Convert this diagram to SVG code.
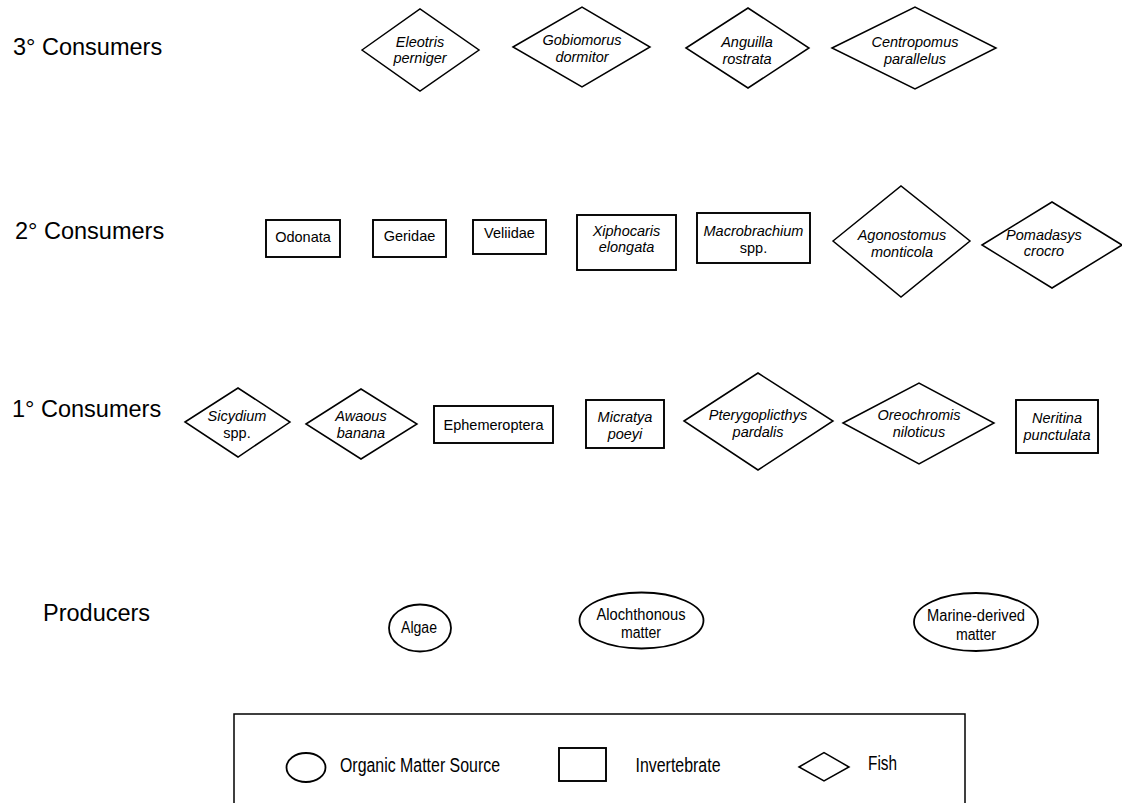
<svg xmlns="http://www.w3.org/2000/svg" width="1122" height="803" viewBox="0 0 1122 803">
<style>
.bg{fill:#ffffff}
.shape{fill:#ffffff;stroke:#000000;stroke-width:1.5}
.box{stroke-width:1.9}
.oval{stroke-width:1.8}
.lbl{font-family:"Liberation Sans",Arial,sans-serif;font-size:23.5px;fill:#000}
.t{font-family:"Liberation Sans",Arial,sans-serif;font-size:14.5px;fill:#000;text-anchor:middle}
.i{font-style:italic}
.n{font-family:"Liberation Sans Narrow","Liberation Sans",Arial,sans-serif;font-size:16px;fill:#000}
.c{text-anchor:middle}
.lg{font-family:"Liberation Sans Narrow","Liberation Sans",Arial,sans-serif;font-size:19.5px;fill:#000}
</style>
<rect class="bg" x="0" y="0" width="1122" height="803"/>

<g id="level-labels">
<text class="lbl" x="13" y="55">3° Consumers</text>
<text class="lbl" x="15" y="239">2° Consumers</text>
<text class="lbl" x="12" y="417">1° Consumers</text>
<text class="lbl" x="43" y="621">Producers</text>
</g>

<g id="connectors"></g>

<!-- 3° consumers -->
<g id="eleotris">
<polygon class="shape" points="362,50 420,9 479,50 420,91"/>
<text class="t i" x="420" y="46.5">Eleotris</text>
<text class="t i" x="420" y="63">perniger</text>
</g>
<g id="gobiomorus">
<polygon class="shape" points="513,47 582,7 650,47 582,87"/>
<text class="t i" x="582" y="44.5">Gobiomorus</text>
<text class="t i" x="582" y="62">dormitor</text>
</g>
<g id="anguilla">
<polygon class="shape" points="686,48 748,8 809,48 748,88"/>
<text class="t i" x="747" y="46.5">Anguilla</text>
<text class="t i" x="747" y="64">rostrata</text>
</g>
<g id="centropomus">
<polygon class="shape" points="832,48 915,7 996,48 915,89"/>
<text class="t i" x="915" y="46.5">Centropomus</text>
<text class="t i" x="915" y="64">parallelus</text>
</g>

<!-- 2° consumers -->
<g id="odonata">
<rect class="shape box" x="266" y="220" width="74" height="37"/>
<text class="t" x="303" y="241.5">Odonata</text>
</g>
<g id="geridae">
<rect class="shape box" x="373" y="220" width="73" height="37"/>
<text class="t" x="409.5" y="241">Geridae</text>
</g>
<g id="veliidae">
<rect class="shape box" x="473" y="220" width="73" height="34"/>
<text class="t" x="509.5" y="238">Veliidae</text>
</g>
<g id="xiphocaris">
<rect class="shape box" x="577" y="215" width="99" height="55"/>
<text class="t i" x="626.5" y="236">Xiphocaris</text>
<text class="t i" x="626.5" y="252">elongata</text>
</g>
<g id="macrobrachium">
<rect class="shape box" x="697" y="213" width="113" height="50"/>
<text class="t i" x="753.5" y="236">Macrobrachium</text>
<text class="t" x="753.5" y="253">spp.</text>
</g>
<g id="agonostomus">
<polygon class="shape" points="833,241 901,186 970,241 901,297"/>
<text class="t i" x="902" y="240">Agonostomus</text>
<text class="t i" x="902" y="257">monticola</text>
</g>
<g id="pomadasys">
<polygon class="shape" points="982,245 1052,202 1122,245 1052,288"/>
<text class="t i" x="1044" y="240">Pomadasys</text>
<text class="t i" x="1044" y="256">crocro</text>
</g>

<!-- 1° consumers -->
<g id="sicydium">
<polygon class="shape" points="185,422 238,388 290,422 238,457"/>
<text class="t i" x="237" y="421">Sicydium</text>
<text class="t" x="237" y="438">spp.</text>
</g>
<g id="awaous">
<polygon class="shape" points="306,424 361,389 417,424 361,459"/>
<text class="t i" x="361" y="421">Awaous</text>
<text class="t i" x="361" y="438">banana</text>
</g>
<g id="ephemeroptera">
<rect class="shape box" x="434" y="406" width="119" height="37"/>
<text class="t" x="493.5" y="430">Ephemeroptera</text>
</g>
<g id="micratya">
<rect class="shape box" x="586" y="400" width="78" height="48"/>
<text class="t i" x="625" y="422">Micratya</text>
<text class="t i" x="625" y="439">poeyi</text>
</g>
<g id="pterygoplicthys">
<polygon class="shape" points="684,421 758,373 833,421 758,470"/>
<text class="t i" x="758" y="420">Pterygoplicthys</text>
<text class="t i" x="758" y="437">pardalis</text>
</g>
<g id="oreochromis">
<polygon class="shape" points="843,423 919,383 994,423 919,464"/>
<text class="t i" x="919" y="420">Oreochromis</text>
<text class="t i" x="919" y="437">niloticus</text>
</g>
<g id="neritina">
<rect class="shape box" x="1016" y="400" width="82" height="53"/>
<text class="t i" x="1057" y="423">Neritina</text>
<text class="t i" x="1057" y="440">punctulata</text>
</g>

<!-- producers -->
<g id="algae">
<ellipse class="shape oval" cx="420" cy="628" rx="31" ry="23.5"/>
<text class="n c" x="419" y="633" textLength="36" lengthAdjust="spacingAndGlyphs">Algae</text>
</g>
<g id="alochthonous">
<ellipse class="shape oval" cx="641.5" cy="620.5" rx="62" ry="28"/>
<text class="n c" x="641" y="619.5" textLength="89" lengthAdjust="spacingAndGlyphs">Alochthonous</text>
<text class="n c" x="641" y="638" textLength="40" lengthAdjust="spacingAndGlyphs">matter</text>
</g>
<g id="marine">
<ellipse class="shape oval" cx="976" cy="622" rx="62" ry="29"/>
<text class="n c" x="976" y="621" textLength="98" lengthAdjust="spacingAndGlyphs">Marine-derived</text>
<text class="n c" x="976" y="639.5" textLength="40" lengthAdjust="spacingAndGlyphs">matter</text>
</g>

<!-- legend -->
<g id="legend">
<rect class="shape" x="234" y="714" width="731" height="120"/>
<ellipse class="shape oval" cx="306" cy="767.5" rx="19.5" ry="14.5"/>
<text class="lg" x="340" y="772" textLength="160" lengthAdjust="spacingAndGlyphs">Organic Matter Source</text>
<rect class="shape box" x="559" y="748" width="47" height="33"/>
<text class="lg" x="635.5" y="772" textLength="85" lengthAdjust="spacingAndGlyphs">Invertebrate</text>
<polygon class="shape" points="799,767 824,752.5 849,767 824,781"/>
<text class="lg" x="868" y="769.5" textLength="29" lengthAdjust="spacingAndGlyphs">Fish</text>
</g>
</svg>
